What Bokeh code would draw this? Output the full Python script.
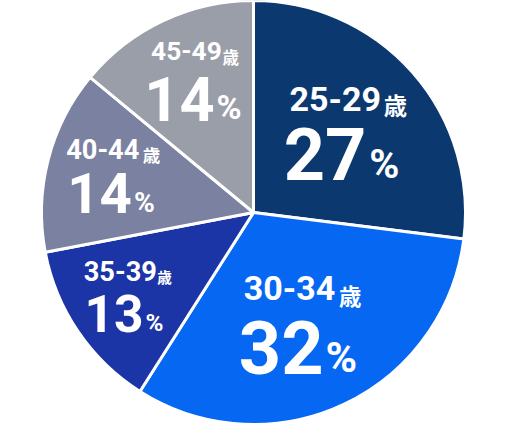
import math
from bokeh.plotting import figure
from bokeh.models import ColumnDataSource, Range1d
from bokeh.core.properties import value
from bokeh.embed import file_html
from bokeh.resources import INLINE

# ---- data ----
age_groups = ["25-29", "30-34", "35-39", "40-44", "45-49"]
age_suffix = "歳"
shares = [27, 32, 13, 14, 14]
colors = ["#0c3870", "#0567f2", "#1b34a6", "#7b81a1", "#9a9ea9"]

# ---- layout (pixel coordinates measured on the reference picture) ----
W, H = 490, 424
REF_CX, REF_CY, REF_R = 253, 219, 218
CX, CY, R = 253, 212, 212
K = R / REF_R
BASE_FIX = 0.32      # baseline correction for Latin text (fraction of font size)
BASE_FIX_CJK = 0.18  # baseline correction for CJK text

label_cx = [337, 290, 116, 98, 184]
label_base = [113, 308, 288, 163, 62]
label_size = [35, 35, 28, 28, 27]
sai_x = [387, 341, 154, 139, 221]
sai_size = [24, 23, 15, 18, 17]
num_right = [369, 325, 140, 128, 213]
num_base = [183, 382, 340, 218, 122]
num_size = [74, 76, 53, 58, 63]
pct_x = [372, 327, 142, 130, 215]
pct_size = [42, 44, 25, 29, 35]


def tx(x):
    return CX + (x - REF_CX) * K


def ty(y, size, fix=BASE_FIX):
    # picture y (down) -> data y (up), with a baseline correction
    return H - (CY + (y - REF_CY) * K) + fix * size * K


def fs(s):
    return f"{s * K:.1f}px"


total = sum(shares)
starts, ends = [], []
acc = 0
for s in shares:
    starts.append(math.pi / 2 - 2 * math.pi * acc / total)
    acc += s
    ends.append(math.pi / 2 - 2 * math.pi * acc / total)

p = figure(width=W, height=H, output_backend="svg", toolbar_location=None,
           x_range=Range1d(0, W), y_range=Range1d(0, H), min_border=0)
p.axis.visible = False
p.grid.visible = False
p.outline_line_color = None
p.background_fill_color = "white"
p.border_fill_color = "white"

wsrc = ColumnDataSource(dict(start=starts, end=ends, color=colors))
p.wedge(x=CX, y=H - CY, radius=R, start_angle="start", end_angle="end",
        direction="clock", fill_color="color", line_color="white",
        line_width=3, source=wsrc)

lab = ColumnDataSource(dict(
    x=[tx(v) for v in label_cx],
    y=[ty(v, s) for v, s in zip(label_base, label_size)],
    text=age_groups, size=[fs(v) for v in label_size]))
p.text(x="x", y="y", text="text", text_font_size="size", source=lab,
       text_font=value("Roboto"), text_font_style="bold", text_color="white",
       text_align="center", text_baseline="alphabetic")

sai = ColumnDataSource(dict(
    x=[tx(v) for v in sai_x],
    y=[ty(v, s, BASE_FIX_CJK) for v, s in zip(label_base, sai_size)],
    text=[age_suffix] * len(age_groups), size=[fs(v) for v in sai_size]))
p.text(x="x", y="y", text="text", text_font_size="size", source=sai,
       text_font=value("Noto Sans CJK JP"), text_font_style="bold",
       text_color="white", text_align="left", text_baseline="alphabetic")

num = ColumnDataSource(dict(
    x=[tx(v) for v in num_right],
    y=[ty(v, s) for v, s in zip(num_base, num_size)],
    text=[str(v) for v in shares], size=[fs(v) for v in num_size]))
p.text(x="x", y="y", text="text", text_font_size="size", source=num,
       text_font=value("Roboto"), text_font_style="bold", text_color="white",
       text_align="right", text_baseline="alphabetic")

pct = ColumnDataSource(dict(
    x=[tx(v) for v in pct_x],
    y=[ty(v, s) for v, s in zip(num_base, pct_size)],
    text=["%"] * len(shares), size=[fs(v) for v in pct_size]))
p.text(x="x", y="y", text="text", text_font_size="size", source=pct,
       text_font=value("Roboto"), text_font_style="bold", text_color="white",
       text_align="left", text_baseline="alphabetic")

open("out.html", "w").write(file_html(p, INLINE))
